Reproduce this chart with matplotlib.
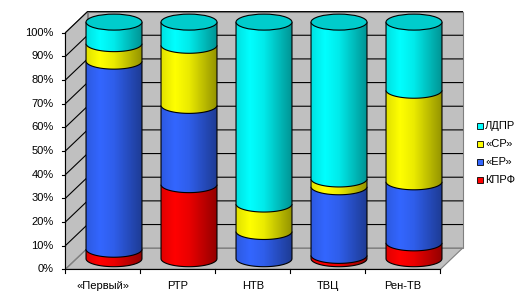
import matplotlib
matplotlib.use("Agg")
import matplotlib.pyplot as plt
import numpy as np
from matplotlib.colors import LinearSegmentedColormap, to_rgb
from matplotlib.patches import Polygon, PathPatch, Ellipse, Rectangle
from matplotlib.path import Path

# data (shares in %)
channels = ["«Первый»", "РТР", "НТВ", "ТВЦ", "Рен-ТВ"]
series = ["КПРФ", "«ЕР»", "«СР»", "ЛДПР"]
kprf = [4.0, 31.3, 0.0, 1.4, 6.7]
er = [79.5, 33.5, 11.5, 29.0, 25.8]
sr = [7.4, 25.4, 11.6, 3.3, 38.7]
ldpr = [9.1, 9.8, 76.9, 66.3, 28.8]
colors = ["#FF0000", "#3366FF", "#FFFF00", "#00FFFF"]
yticks = list(range(0, 101, 10))

plt.rcParams["font.family"] = ["Liberation Sans", "DejaVu Sans"]
FS = 8

fig = plt.figure(figsize=(5.29, 3.03), dpi=100)
ax = fig.add_axes([0, 0, 1, 1])
ax.axis("off")

# map: 75 px per category, 2.366 px per percent
XLIM = (-114 / 75, (529 - 114) / 75)
YLIM = ((258.7 - 303) / 2.366, 258.7 / 2.366)
dx, dy = 0.147, 4.44          # half depth of the 3d box
rw, rh = 0.373, 3.38          # cylinder radius, ellipse half height
n = len(channels)
left, right = -0.5, n - 0.5
wall = "#C0C0C0"
edge = "#808080"

# side wall, back wall, floor
ax.add_patch(Polygon([(left - dx, -dy), (left - dx, 100 - dy), (left + dx, 100 + dy),
                      (left + dx, dy)], fc=wall, ec=edge, lw=0.8, zorder=1))
ax.add_patch(Polygon([(left + dx, dy), (left + dx, 100 + dy), (right + dx, 100 + dy),
                      (right + dx, dy)], fc=wall, ec=edge, lw=0.8, zorder=1))
ax.add_patch(Polygon([(left - dx, -dy), (right - dx, -dy), (right + dx, dy),
                      (left + dx, dy)], fc=wall, ec=edge, lw=0.8, zorder=1))

for v in yticks:
    c = edge if v == 0 else "black"
    ax.plot([left - dx, left + dx, right + dx], [v - dy, v + dy, v + dy],
            color=c, lw=0.8, zorder=2)
    ax.plot([left - dx - 0.053, left - dx], [v - dy, v - dy], color="black", lw=0.8, zorder=2)
    ax.text(left - dx - 0.16, v - dy, f"{v}%", ha="right", va="center", fontsize=FS)

ax.plot([left - dx, left - dx], [-dy, 100 - dy], color="black", lw=0.8, zorder=2)
ax.plot([left - dx, right - dx], [-dy, -dy], color="black", lw=0.8, zorder=2)
for i in range(n + 1):
    xb = left - dx + i
    ax.plot([xb, xb], [-dy, -dy - 1.7], color="black", lw=0.8, zorder=2)
for i, name in enumerate(channels):
    ax.text(i - dx, -11.4, name, ha="center", va="center", fontsize=FS)


def shade_cmap(col):
    r = np.array(to_rgb(col))
    return LinearSegmentedColormap.from_list(
        "s", [r * 0.88, r, r * 0.92, r * 0.75, r * 0.58], N=128)


grad = np.linspace(0, 1, 128).reshape(1, -1)
theta = np.linspace(np.pi, 2 * np.pi, 40)
stack = np.array([kprf, er, sr, ldpr])
z = 5
for i in range(n):
    bottom = 0.0
    for k in range(len(series)):
        h = stack[k][i]
        if h <= 0:
            continue
        a, b = bottom, bottom + h
        arc = np.column_stack([i + rw * np.cos(theta), a + rh * np.sin(theta)])
        verts = np.vstack([[i - rw, b], arc, [i + rw, b], [i - rw, b]])
        shape = PathPatch(Path(verts, closed=True), fc="none", ec="none", zorder=z)
        ax.add_patch(shape)
        img = ax.imshow(grad, cmap=shade_cmap(colors[k]), aspect="auto",
                        extent=(i - rw, i + rw, a - rh, b), zorder=z,
                        interpolation="bilinear")
        img.set_clip_path(shape)
        outline = np.vstack([[i - rw, b], arc, [i + rw, b]])
        ax.add_patch(PathPatch(Path(outline), fill=False, ec="black", lw=0.8, zorder=z + 1))
        bottom = b
        z += 2
    ax.add_patch(Ellipse((i, bottom), 2 * rw, 2 * rh, fc="#00CCCC", ec="black",
                         lw=0.8, zorder=z))
    z += 2

# legend
for j, k in enumerate(reversed(range(len(series)))):
    ly = (258.7 - (126 + 18 * j)) / 2.366
    ax.add_patch(Rectangle(((477 - 114) / 75, ly - 1.3), 6 / 75, 2.6, fc=colors[k],
                           ec="black", lw=0.6, zorder=3))
    ax.text((485 - 114) / 75, ly, series[k], ha="left", va="center", fontsize=FS)

ax.set_xlim(*XLIM)
ax.set_ylim(*YLIM)
fig.savefig("out.png", dpi=100)
